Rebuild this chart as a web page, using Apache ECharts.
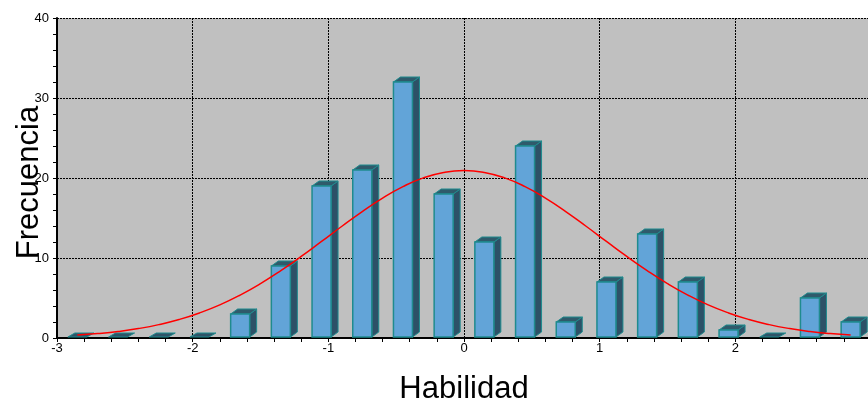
<!DOCTYPE html>
<html><head><meta charset="utf-8">
<script src="https://cdn.jsdelivr.net/npm/echarts@6/dist/echarts.min.js"></script>
<style>html,body{margin:0;padding:0;background:#fff}#c{width:868px;height:401px}</style>
</head><body><div id="c"></div>
<script>
// Histogram bin centres (Habilidad) and frequencies
const binCenters = [-2.85,-2.55,-2.25,-1.95,-1.65,-1.35,-1.05,-0.75,-0.45,-0.15,0.15,0.45,0.75,1.05,1.35,1.65,1.95,2.25,2.55,2.85];
const frequencies = [0,0,0,0,3,9,19,21,32,18,12,24,2,7,13,7,1,0,5,2];
// Normal curve points
const curveX = [-2.85,-2.7,-2.55,-2.4,-2.25,-2.1,-1.95,-1.8,-1.65,-1.5,-1.35,-1.2,-1.05,-0.9,-0.75,-0.6,-0.45,-0.3,-0.15,0,0.15,0.3,0.45,0.6,0.75,0.9,1.05,1.2,1.35,1.5,1.65,1.8,1.95,2.1,2.25,2.4,2.55,2.7,2.85];
const curveY = [0.36,0.55,0.81,1.18,1.67,2.31,3.13,4.14,5.37,6.8,8.42,10.19,12.07,13.97,15.81,17.49,18.92,20.02,20.7,20.94,20.7,20.02,18.92,17.49,15.81,13.97,12.07,10.19,8.42,6.8,5.37,4.14,3.13,2.31,1.67,1.18,0.81,0.55,0.36];
const xTitle = 'Habilidad';
const yTitle = 'Frecuencia';

const chart = echarts.init(document.getElementById('c'), null, {renderer:'canvas'});
const FONT = 'Liberation Sans, Arial, sans-serif';
const W = 19, DX = 7, DY = 5;
function renderBar(params, api){
  const x = api.value(0), v = api.value(1);
  const p0 = api.coord([x, 0]);
  const p1 = api.coord([x, v]);
  const l = p0[0] - W/2, r = p0[0] + W/2, b = p0[1] - 1;
  const edge = '#1f8b8e';
  if (v <= 0) {
    return {type:'polygon', shape:{points:[[l,b],[r,b],[r+DX,b-DY+1],[l+DX,b-DY+1]]},
      style:{fill:'#2e5468', stroke:edge, lineWidth:1}};
  }
  const t = p1[1];
  return {type:'group', children:[
    {type:'polygon', shape:{points:[[r,t],[r+DX,t-DY],[r+DX,b-DY],[r,b]]}, style:{fill:'#2d5167', stroke:edge, lineWidth:1}},
    {type:'polygon', shape:{points:[[l,t],[l+DX,t-DY],[r+DX,t-DY],[r,t]]}, style:{fill:'#2f5a6b', stroke:edge, lineWidth:1}},
    {type:'rect', shape:{x:l, y:t, width:W, height:b-t}, style:{fill:'#62a4d8', stroke:edge, lineWidth:1.5}}
  ]};
}
chart.setOption({
  animation:false,
  backgroundColor:'#ffffff',
  grid:{left:57, right:-3, top:18, bottom:63, show:true, backgroundColor:'#c0c0c0', borderWidth:0,
        containLabel:false, outerBoundsMode:'none'},
  xAxis:{type:'value', min:-3, max:3, interval:1,
    name:xTitle, nameLocation:'middle', nameGap:36, nameMoveOverlap:false,
    nameTextStyle:{fontFamily:FONT, fontSize:31, color:'#000'},
    axisLine:{show:true, onZero:false, lineStyle:{color:'#000', width:2}},
    axisTick:{show:true, length:4, lineStyle:{color:'#000'}},
    minorTick:{show:true, splitNumber:5, length:4, lineStyle:{color:'#000'}},
    axisLabel:{fontFamily:FONT, fontSize:13, color:'#000', margin:4},
    splitLine:{show:true, lineStyle:{color:'#000', type:[2,1], width:1}}
  },
  yAxis:{type:'value', min:0, max:40, interval:10,
    name:yTitle, nameLocation:'middle', nameGap:12, nameRotate:90, nameMoveOverlap:false,
    nameTextStyle:{fontFamily:FONT, fontSize:31, color:'#000', padding:[0,9,0,0]},
    axisLine:{show:true, onZero:false, lineStyle:{color:'#000', width:2}},
    axisTick:{show:true, length:4, lineStyle:{color:'#000'}},
    minorTick:{show:true, splitNumber:5, length:4, lineStyle:{color:'#000'}},
    axisLabel:{fontFamily:FONT, fontSize:13, color:'#000', margin:8},
    splitLine:{show:true, lineStyle:{color:'#000', type:[2,1], width:1}}
  },
  series:[
    {type:'custom', renderItem:renderBar, data:binCenters.map((c,i)=>[c, frequencies[i]]), z:2, clip:false},
    {type:'line', data:curveX.map((c,i)=>[c, curveY[i]]), smooth:true, showSymbol:false, symbol:'none',
     lineStyle:{color:'#ff0000', width:1.5}, z:5}
  ]
});
</script></body></html>
